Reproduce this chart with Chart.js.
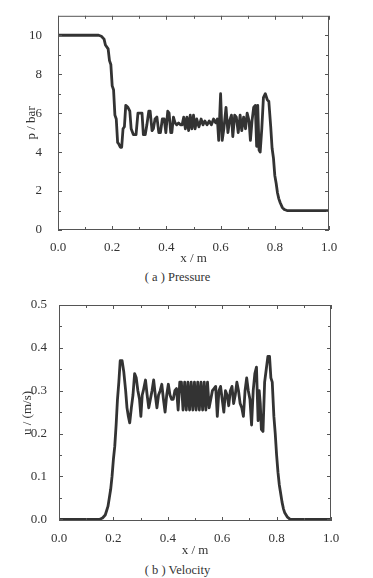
<!DOCTYPE html>
<html>
<head>
<meta charset="utf-8">
<script src="https://cdn.jsdelivr.net/npm/chart.js@4"></script>
<style>
body{margin:0;background:#fff;width:373px;height:578px;position:relative;overflow:hidden;font-family:"Liberation Serif","Times New Roman",Tinos,"DejaVu Serif",serif;color:#333}
.box{position:absolute;left:0;width:373px;height:268px}
.cap{position:absolute;left:0;width:355px;text-align:center;font-size:12.5px}
</style>
</head>
<body>
<div class="box" style="top:0"><canvas id="pres" width="373" height="268"></canvas></div>
<div class="cap" style="top:270px">( a ) Pressure</div>
<div class="box" style="top:290px"><canvas id="velo" width="373" height="268"></canvas></div>
<div class="cap" style="top:563px">( b ) Velocity</div>
<script>
// x positions along the tube
const xTicks=[0,0.2,0.4,0.6,0.8,1.0];
const xMinor=[0.1,0.3,0.5,0.7,0.9];
const pTicks=[0,2,4,6,8,10];
const pMinor=[1,3,5,7,9];
const uTicks=[0,0.1,0.2,0.3,0.4,0.5];
const uMinor=[0.05,0.15,0.25,0.35,0.45];

const pressureX=[0,0.15,0.16,0.17,0.175,0.185,0.19,0.195,0.2,0.205,0.21,0.215,0.22,0.225,0.23,0.235,0.24,0.245,0.25,0.258,0.265,0.27,0.278,0.288,0.295,0.305,0.31,0.315,0.322,0.328,0.335,0.34,0.347,0.352,0.358,0.365,0.372,0.378,0.385,0.392,0.398,0.405,0.41,0.416,0.42,0.426,0.432,0.438,0.445,0.452,0.458,0.464,0.47,0.476,0.482,0.488,0.494,0.5,0.506,0.512,0.52,0.528,0.535,0.542,0.55,0.558,0.566,0.574,0.582,0.588,0.593,0.6,0.606,0.612,0.62,0.627,0.633,0.64,0.645,0.652,0.658,0.665,0.672,0.678,0.685,0.692,0.698,0.705,0.71,0.716,0.722,0.728,0.733,0.737,0.742,0.746,0.752,0.758,0.765,0.772,0.778,0.785,0.79,0.795,0.8,0.805,0.81,0.815,0.82,0.828,0.835,0.845,1.0];
const pressureY=[10,10,9.95,9.8,9.5,9.3,8.7,8.5,7.4,7.2,5.9,5.7,4.5,4.4,4.25,4.25,5.2,5.3,6.4,6.3,6.1,5.2,4.9,4.9,6.0,6.0,6.0,4.9,4.9,5.4,6.1,6.1,5.1,5.2,5.7,5.8,5.0,5.0,5.7,5.7,5.0,6.1,6.0,5.0,5.0,5.8,5.5,5.4,5.5,5.4,5.4,5.8,5.2,5.8,5.1,5.9,5.2,5.9,5.2,5.7,5.3,5.7,5.4,5.6,5.4,5.6,5.4,5.7,5.5,5.7,4.6,7.0,4.6,5.2,6.3,5.0,5.6,5.9,4.8,5.9,5.8,5.0,5.9,5.1,5.8,5.2,6.0,5.6,4.6,5.6,6.3,6.4,4.3,6.4,4.1,4.0,5.2,6.8,7.0,6.7,6.6,5.3,4.2,3.7,2.8,2.4,1.9,1.6,1.4,1.15,1.05,1.0,1.0];

const velocityX=[0,0.15,0.16,0.17,0.175,0.18,0.185,0.19,0.195,0.2,0.205,0.21,0.215,0.22,0.225,0.232,0.238,0.245,0.25,0.255,0.26,0.266,0.272,0.278,0.284,0.29,0.296,0.301,0.306,0.31,0.318,0.324,0.33,0.336,0.342,0.348,0.354,0.36,0.366,0.372,0.378,0.384,0.39,0.396,0.402,0.408,0.414,0.42,0.426,0.432,0.438,0.444,0.45,0.456,0.462,0.468,0.474,0.48,0.486,0.492,0.498,0.504,0.51,0.516,0.522,0.528,0.534,0.54,0.546,0.552,0.558,0.564,0.57,0.576,0.582,0.588,0.594,0.6,0.606,0.612,0.618,0.624,0.63,0.636,0.642,0.648,0.654,0.66,0.666,0.672,0.678,0.684,0.69,0.696,0.702,0.708,0.714,0.72,0.726,0.732,0.736,0.74,0.744,0.75,0.756,0.762,0.768,0.774,0.779,0.784,0.79,0.795,0.8,0.805,0.81,0.815,0.82,0.825,0.83,0.84,0.85,1.0];
const velocityY=[0,0,0.003,0.01,0.02,0.03,0.05,0.07,0.1,0.14,0.17,0.22,0.28,0.32,0.37,0.37,0.345,0.3,0.26,0.24,0.225,0.26,0.29,0.34,0.33,0.3,0.28,0.24,0.29,0.3,0.325,0.29,0.26,0.28,0.3,0.325,0.29,0.26,0.29,0.3,0.315,0.28,0.25,0.29,0.315,0.29,0.28,0.28,0.3,0.305,0.255,0.32,0.32,0.255,0.32,0.255,0.32,0.255,0.32,0.255,0.32,0.255,0.32,0.255,0.32,0.255,0.32,0.255,0.32,0.26,0.28,0.3,0.305,0.31,0.24,0.3,0.31,0.28,0.25,0.3,0.29,0.265,0.3,0.31,0.27,0.29,0.32,0.3,0.27,0.26,0.24,0.3,0.33,0.3,0.28,0.22,0.3,0.34,0.355,0.23,0.3,0.27,0.21,0.205,0.32,0.35,0.38,0.38,0.33,0.32,0.24,0.2,0.15,0.11,0.08,0.06,0.04,0.025,0.015,0.005,0,0];

const serif='"Liberation Serif","Times New Roman",Tinos,"DejaVu Serif",serif';
const ink='#333';

// frame + inward ticks on all four sides
const frameTicks={
  id:'frameTicks',
  afterDraw(chart,args,opts){
    const c=chart.ctx, a=chart.chartArea, sx=chart.scales.x, sy=chart.scales.y;
    c.save();
    c.strokeStyle='#555';c.lineWidth=1;
    c.strokeRect(a.left+0.5,a.top+0.5,a.right-a.left-1,a.bottom-a.top-1);
    c.beginPath();
    const tx=(v,len)=>{const p=Math.round(sx.getPixelForValue(v))+0.5;c.moveTo(p,a.bottom);c.lineTo(p,a.bottom-len);c.moveTo(p,a.top);c.lineTo(p,a.top+len);};
    const ty=(v,len)=>{const p=Math.round(sy.getPixelForValue(v))+0.5;c.moveTo(a.left,p);c.lineTo(a.left+len,p);c.moveTo(a.right,p);c.lineTo(a.right-len,p);};
    xTicks.forEach(v=>tx(v,4));xMinor.forEach(v=>tx(v,3));
    opts.major.forEach(v=>ty(v,4));opts.minor.forEach(v=>ty(v,3));
    c.stroke();
    c.restore();
  }
};

function makeChart(id,xs,ys,yMin,yMax,majors,minors,yTitle,pad,yw,xh,ypad,ytpad,xtpad,fmt){
  return new Chart(document.getElementById(id),{
    type:'line',
    data:{datasets:[{
      data:xs.map((x,i)=>({x:x,y:ys[i]})),
      borderColor:ink,borderWidth:2.8,pointRadius:0,tension:0,fill:false,borderJoinStyle:'round'
    }]},
    options:{
      responsive:false,animation:false,
      layout:{padding:pad},
      plugins:{legend:{display:false},tooltip:{enabled:false},frameTicks:{major:majors,minor:minors}},
      scales:{
        x:{type:'linear',min:0,max:1,
          grid:{display:false},border:{display:false},
          afterBuildTicks:s=>{s.ticks=xTicks.map(v=>({value:v}));},
          afterFit:s=>{s.height=xh;},
          ticks:{padding:2,color:ink,font:{family:serif,size:13},callback:v=>v.toFixed(1),maxRotation:0},
          title:{display:true,text:'x / m',color:ink,font:{family:serif,size:13},padding:{top:0,bottom:xtpad}}
        },
        y:{type:'linear',min:yMin,max:yMax,
          grid:{display:false},border:{display:false},
          afterBuildTicks:s=>{s.ticks=majors.map(v=>({value:v}));},
          afterFit:s=>{s.width=yw;},
          ticks:{padding:ypad,color:ink,font:{family:serif,size:13},callback:fmt},
          title:{display:true,text:yTitle,color:ink,font:{family:serif,size:13},padding:{top:ytpad,bottom:0}}
        }
      }
    },
    plugins:[frameTicks]
  });
}

makeChart('pres',pressureX,pressureY,0,11,pTicks,pMinor,'p / bar',
  {top:12,right:44,left:0,bottom:0},58,38,8,24,2,v=>String(v));
makeChart('velo',velocityX,velocityY,-0.004,0.5,uTicks,uMinor,'u / (m/s)',
  {top:15,right:42,left:0,bottom:0},59,37,4,20,0,v=>v.toFixed(1));
</script>
</body>
</html>
